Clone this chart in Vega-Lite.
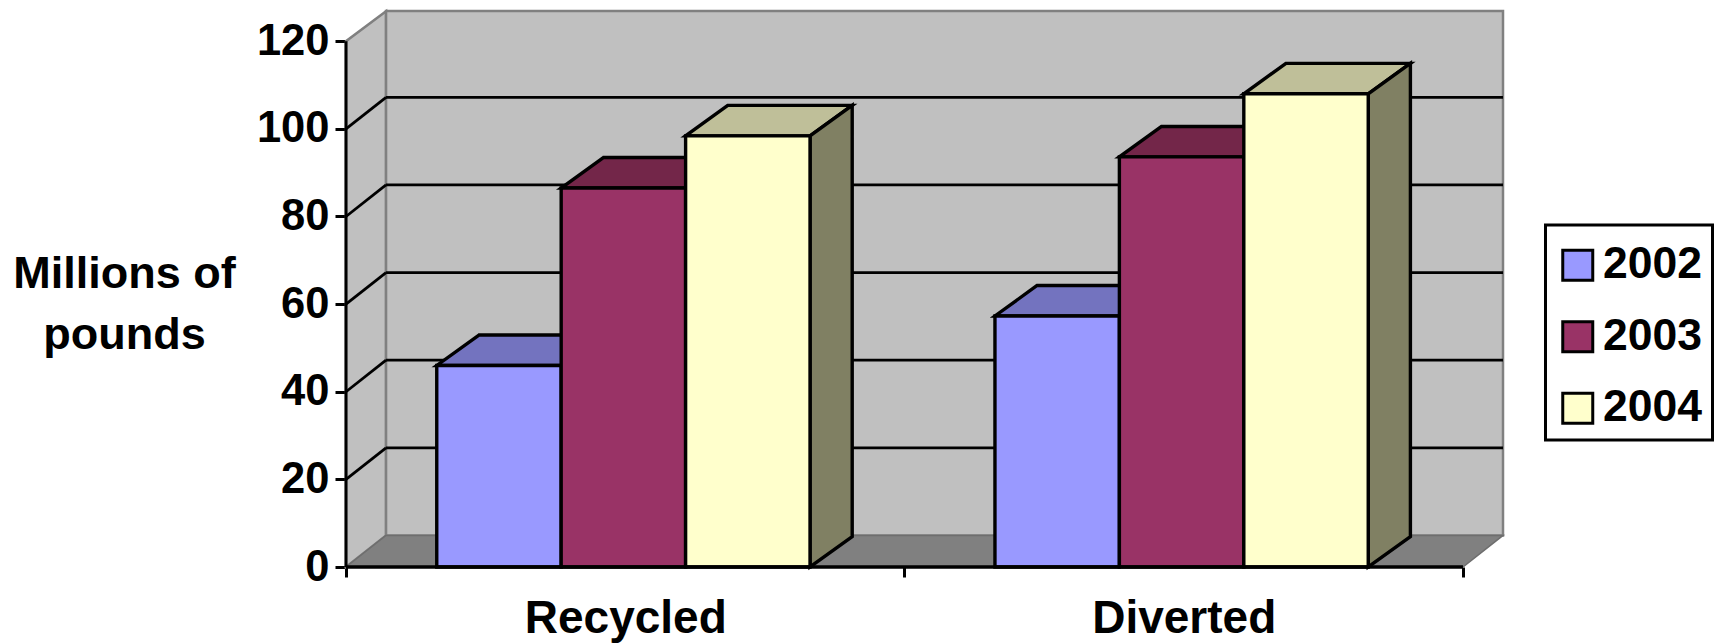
{"$schema":"https://vega.github.io/schema/vega-lite/v6.json","width":1157,"height":556,"autosize":"none","padding":{"left":346,"top":11,"right":215,"bottom":76},"background":"white","config":{"view":{"stroke":null},"legend":{"strokeWidth":3},"axis":{"labelFont":"Liberation Sans","labelFontWeight":"bold","labelFontSize":43.5,"labelColor":"black","labelLimit":600,"titleFont":"Liberation Sans","titleFontWeight":"bold","titleFontSize":45,"titleColor":"black","grid":false,"domain":false,"tickColor":"black","tickWidth":3}},"datasets":{"bars":[{"category":"Recycled","year":2002,"value":46},{"category":"Recycled","year":2003,"value":86.5},{"category":"Recycled","year":2004,"value":98.4},{"category":"Diverted","year":2002,"value":57.3},{"category":"Diverted","year":2003,"value":93.6},{"category":"Diverted","year":2004,"value":108}],"grid":[{"v":20},{"v":40},{"v":60},{"v":80},{"v":100}],"depth":[{"d":0},{"d":1}]},"resolve":{"scale":{"fill":"independent"}},"layer":[{"data":{"name":"depth"},"transform":[{"calculate":"datum.d*0.0717","as":"px"},{"calculate":"datum.d*7.2","as":"py"},{"calculate":"120+datum.d*6.85","as":"py2"}],"mark":{"type":"area","orient":"vertical","fill":"#C0C0C0","stroke":"#808080","strokeWidth":2.5},"encoding":{"x":{"field":"px","type":"quantitative","scale":{"domain":[0,2.0717],"nice":false,"zero":false},"axis":{"title":null,"values":[0,0.5,1,1.5,2],"tickSize":10,"labelPadding":19,"labelFontSize":46,"labelExpr":"datum.value==0.5?'Recycled':datum.value==1.5?'Diverted':''","tickOpacity":{"condition":{"test":"datum.value==0.5||datum.value==1.5","value":0},"value":1}}},"y":{"field":"py","type":"quantitative","scale":{"domain":[0,126.9],"nice":false,"zero":false},"axis":{"values":[0,20,40,60,80,100,120],"tickSize":11,"labelPadding":6,"title":["Millions of","pounds"],"titleAngle":0,"titleX":-222,"titleY":276,"titleAlign":"center","titleBaseline":"alphabetic","titleLineHeight":61}},"y2":{"field":"py2"}}},{"data":{"values":[{}]},"mark":{"type":"rect","fill":"#C0C0C0","stroke":"#808080","strokeWidth":2.5},"encoding":{"x":{"datum":0.0717,"type":"quantitative"},"x2":{"datum":2.0717},"y":{"datum":7.2,"type":"quantitative"},"y2":{"datum":126.9}}},{"data":{"name":"depth"},"transform":[{"calculate":"datum.d*0.0717","as":"px"},{"calculate":"2+datum.d*0.0717","as":"px2"},{"calculate":"datum.d*7.2","as":"py"}],"mark":{"type":"area","orient":"horizontal","fill":"#808080","stroke":"#6e6e6e","strokeWidth":1.5},"encoding":{"y":{"field":"py","type":"quantitative"},"x":{"field":"px","type":"quantitative"},"x2":{"field":"px2"}}},{"data":{"name":"grid"},"transform":[{"calculate":"datum.v+7.2","as":"vb"}],"mark":{"type":"rule","color":"black","strokeWidth":2.8},"encoding":{"x":{"datum":0.0717,"type":"quantitative"},"x2":{"datum":2.0717},"y":{"field":"vb","type":"quantitative"}}},{"data":{"name":"grid"},"transform":[{"calculate":"[0,1]","as":"d"},{"flatten":["d"]},{"calculate":"datum.d*0.0717","as":"px"},{"calculate":"datum.v+datum.d*7.2","as":"py"}],"mark":{"type":"line","color":"black","strokeWidth":2.8},"encoding":{"x":{"field":"px","type":"quantitative"},"y":{"field":"py","type":"quantitative"},"detail":{"field":"v"}}},{"data":{"values":[{}]},"mark":{"type":"rule","color":"black","strokeWidth":3},"encoding":{"x":{"datum":0,"type":"quantitative"},"y":{"datum":0,"type":"quantitative"},"y2":{"datum":120}}},{"data":{"name":"bars"},"transform":[{"calculate":"(datum.category==='Diverted'?1.162:0.1625)+(datum.year-2002)*0.2228","as":"x0"},{"calculate":"datum.x0+0.2228","as":"x1"},{"calculate":"[0,1]","as":"d"},{"flatten":["d"]},{"calculate":"datum.x0+datum.d*0.0755","as":"tx0"},{"calculate":"datum.x1+datum.d*0.0755","as":"tx1"},{"calculate":"datum.value+datum.d*6.95","as":"ty"}],"mark":{"type":"area","orient":"horizontal","stroke":"black","strokeWidth":3.4,"strokeJoin":"miter","opacity":1},"encoding":{"y":{"field":"ty","type":"quantitative"},"x":{"field":"tx0","type":"quantitative"},"x2":{"field":"tx1"},"detail":{"field":"category"},"fill":{"field":"year","type":"nominal","legend":null,"scale":{"domain":[2002,2003,2004],"range":["#7373BF","#732649","#BFBF99"]}}}},{"data":{"name":"bars"},"transform":[{"filter":"datum.year===2004"},{"calculate":"(datum.category==='Diverted'?1.162:0.1625)+(datum.year-2002)*0.2228+0.2228","as":"x1"},{"calculate":"[0,1]","as":"d"},{"flatten":["d"]},{"calculate":"datum.x1+datum.d*0.0755","as":"sx"},{"calculate":"datum.value+datum.d*6.95","as":"sy"},{"calculate":"datum.d*6.95","as":"sy2"}],"mark":{"type":"area","orient":"vertical","fill":"#808063","stroke":"black","strokeWidth":3.4,"strokeJoin":"miter"},"encoding":{"x":{"field":"sx","type":"quantitative"},"y":{"field":"sy","type":"quantitative"},"y2":{"field":"sy2"},"detail":{"field":"category"}}},{"data":{"name":"bars"},"transform":[{"calculate":"(datum.category==='Diverted'?1.162:0.1625)+(datum.year-2002)*0.2228","as":"x0"},{"calculate":"datum.x0+0.2228","as":"x1"}],"mark":{"type":"rect","stroke":"black","strokeWidth":3.4,"strokeJoin":"miter"},"encoding":{"x":{"field":"x0","type":"quantitative"},"x2":{"field":"x1"},"y":{"field":"value","type":"quantitative"},"y2":{"datum":0},"fill":{"field":"year","type":"nominal","scale":{"domain":[2002,2003,2004],"range":["#9999FF","#993366","#FFFFCC"]},"legend":{"orient":"none","legendX":1199.5,"legendY":214,"title":" ","titleFontSize":1,"titlePadding":7,"fillColor":"white","strokeColor":"black","padding":10,"symbolType":"square","symbolSize":900,"symbolStrokeColor":"black","symbolStrokeWidth":3,"symbolOpacity":1,"labelFont":"Liberation Sans","labelFontWeight":"bold","labelFontSize":44.5,"labelColor":"black","labelOffset":3,"rowPadding":26.5}}}},{"data":{"values":[{}]},"mark":{"type":"rule","color":"black","strokeWidth":3.4},"encoding":{"x":{"datum":0,"type":"quantitative"},"x2":{"datum":2},"y":{"datum":0,"type":"quantitative"}}}]}
